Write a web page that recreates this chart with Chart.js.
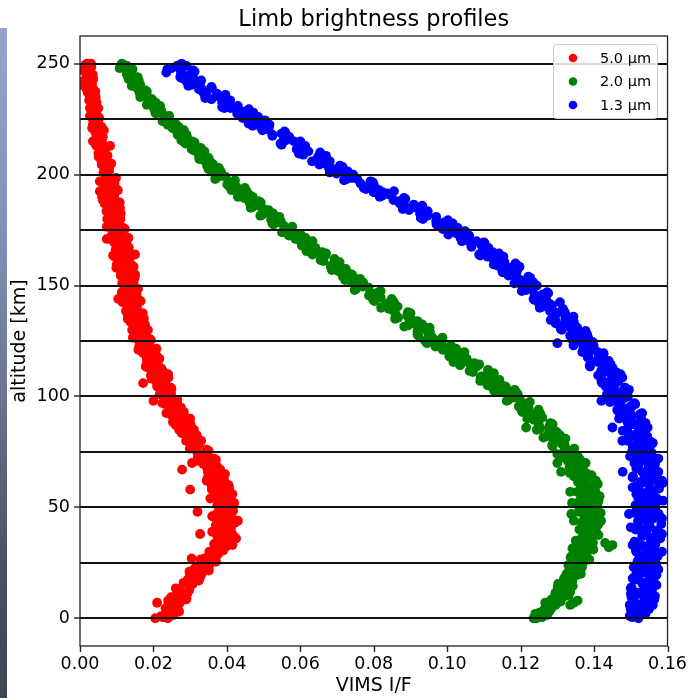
<!DOCTYPE html>
<html><head><meta charset="utf-8">
<script src="https://cdn.jsdelivr.net/npm/chart.js@4"></script>
<style>
html,body{margin:0;padding:0;background:#fff;overflow:hidden}
#wrap{position:relative;width:695px;height:698px}
#strip{position:absolute;left:0;top:28px;width:7px;height:670px;background:linear-gradient(#93a5cc,#8292b8 30%,#6c7390 55%,#4d5062 80%,#3f4652)}
</style></head><body>
<div id="wrap"><canvas id="c" width="695" height="698"></canvas><div id="strip"></div></div>
<script>
const seriesLabels = ['5.0 µm', '2.0 µm', '1.3 µm'];
const seriesColors = ['#ff0000', '#008000', '#0000ff'];
const yTickValues = [0, 50, 100, 150, 200, 250];
const gridLevels = [0, 25, 50, 75, 100, 125, 150, 175, 200, 225, 250];
const xTickValues = [0, 0.02, 0.04, 0.06, 0.08, 0.10, 0.12, 0.14, 0.16];

// altitude samples (km): whole-km rows and half-km rows
const altitudes = [0,1,2,3,4,5,6,7,8,9,10,11,12,13,14,15,16,17,18,19,20,21,22,23,24,25,26,27,28,29,30,31,32,33,34,35,36,37,38,39,40,41,42,43,44,45,46,47,48,49,50,51,52,53,54,55,56,57,58,59,60,61,62,63,64,65,66,67,68,69,70,71,72,73,74,75,76,77,78,79,80,81,82,83,84,85,86,87,88,89,90,91,92,93,94,95,96,97,98,99,100,101,102,103,104,105,106,107,108,109,110,111,112,113,114,115,116,117,118,119,120,121,122,123,124,125,126,127,128,129,130,131,132,133,134,135,136,137,138,139,140,141,142,143,144,145,146,147,148,149,150,151,152,153,154,155,156,157,158,159,160,161,162,163,164,165,166,167,168,169,170,171,172,173,174,175,176,177,178,179,180,181,182,183,184,185,186,187,188,189,190,191,192,193,194,195,196,197,198,199,200,201,202,203,204,205,206,207,208,209,210,211,212,213,214,215,216,217,218,219,220,221,222,223,224,225,226,227,228,229,230,231,232,233,234,235,236,237,238,239,240,241,242,243,244,245,246,247,248,249,250];
const altitudesHalf = [0.5,1.5,2.5,3.5,4.5,5.5,6.5,7.5,8.5,9.5,10.5,11.5,12.5,13.5,14.5,15.5,16.5,17.5,18.5,19.5,20.5,21.5,22.5,23.5,24.5,25.5,26.5,27.5,28.5,29.5,30.5,31.5,32.5,33.5,34.5,35.5,36.5,37.5,38.5,39.5,40.5,41.5,42.5,43.5,44.5,45.5,46.5,47.5,48.5,49.5,50.5,51.5,52.5,53.5,54.5,55.5,56.5,57.5,58.5,59.5,60.5,61.5,62.5,63.5,64.5,65.5,66.5,67.5,68.5,69.5,70.5,71.5,72.5,73.5,74.5,75.5,76.5,77.5,78.5,79.5,80.5,81.5,82.5,83.5,84.5,85.5,86.5,87.5,88.5,89.5,90.5,91.5,92.5,93.5,94.5,95.5,96.5,97.5,98.5,99.5,100.5,101.5,102.5,103.5,104.5,105.5,106.5,107.5,108.5,109.5,110.5,111.5,112.5,113.5,114.5,115.5,116.5,117.5,118.5,119.5,120.5,121.5,122.5,123.5,124.5,125.5,126.5,127.5,128.5,129.5,130.5,131.5,132.5,133.5,134.5,135.5,136.5,137.5,138.5,139.5,140.5,141.5,142.5,143.5,144.5,145.5,146.5,147.5,148.5,149.5,150.5,151.5,152.5,153.5,154.5,155.5,156.5,157.5,158.5,159.5,160.5,161.5,162.5,163.5,164.5,165.5,166.5,167.5,168.5,169.5,170.5,171.5,172.5,173.5,174.5,175.5,176.5,177.5,178.5,179.5,180.5,181.5,182.5,183.5,184.5,185.5,186.5,187.5,188.5,189.5,190.5,191.5,192.5,193.5,194.5,195.5,196.5,197.5,198.5,199.5,200.5,201.5,202.5,203.5,204.5,205.5,206.5,207.5,208.5,209.5,210.5,211.5,212.5,213.5,214.5,215.5,216.5,217.5,218.5,219.5,220.5,221.5,222.5,223.5,224.5,225.5,226.5,227.5,228.5,229.5,230.5,231.5,232.5,233.5,234.5,235.5,236.5,237.5,238.5,239.5,240.5,241.5,242.5,243.5,244.5,245.5,246.5,247.5,248.5,249.5];

// 5.0 µm I/F
const if50 = [.0239,.0221,.0252,.0238,.0267,.0237,.0255,.0272,.0240,.0273,
.0260,.0292,.0276,.0263,.0299,.0297,.0282,.0324,.0298,.0310,
.0331,.0298,.0335,.0329,.0352,.0334,.0369,.0339,.0363,.0376,
.0352,.0381,.0371,.0397,.0371,.0408,.0388,.0374,.0407,.0392,
.0411,.0385,.0405,.0422,.0387,.0394,.0412,.0372,.0399,.0394,
.0396,.0374,.0400,.0382,.0407,.0372,.0385,.0397,.0359,.0387,
.0368,.0395,.0374,.0354,.0382,.0371,.0348,.0382,.0347,.0352,
.0364,.0321,.0349,.0333,.0347,.0319,.0345,.0306,.0319,.0323,
.0289,.0311,.0293,.0313,.0280,.0310,.0282,.0261,.0288,.0267,
.0280,.0252,.0269,.0283,.0246,.0251,.0267,.0224,.0248,.0241,
.0241,.0217,.0243,.0223,.0247,.0211,.0223,.0233,.0195,.0221,
.0201,.0227,.0204,.0185,.0213,.0203,.0182,.0216,.0182,.0188,
.0201,.0159,.0188,.0173,.0188,.0161,.0189,.0152,.0168,.0174,
.0142,.0166,.0151,.0173,.0142,.0174,.0149,.0130,.0159,.0140,
.0155,.0129,.0149,.0165,.0130,.0137,.0154,.0114,.0140,.0135,
.0137,.0115,.0141,.0123,.0147,.0113,.0125,.0137,.0099,.0127,
.0109,.0135,.0114,.0095,.0125,.0117,.0097,.0133,.0100,.0107,
.0122,.0082,.0112,.0099,.0114,.0089,.0118,.0081,.0098,.0105,
.0074,.0098,.0084,.0107,.0076,.0109,.0085,.0067,.0096,.0078,
.0093,.0067,.0087,.0103,.0068,.0075,.0094,.0054,.0080,.0075,
.0075,.0064,.0076,.0066,.0078,.0060,.0065,.0070,.0051,.0065,
.0054,.0067,.0056,.0045,.0060,.0054,.0044,.0062,.0045,.0048,
.0055,.0033,.0048,.0041,.0048,.0035,.0050,.0031,.0039,.0042,
.0027,.0039,.0031,.0042,.0027,.0043,.0030,.0021,.0035,.0025,
.0033,.0019,.0029,.0036,.0018,.0021,.0029,.0009,.0022,.0019,
.0019];
const if50Half = [.0228,.0255,.0240,.0267,.0233,.0258,.0244,.0270,.0289,.0248,
.0273,.0270,.0297,.0261,.0298,.0307,.0298,.0294,.0327,.0299,
.0322,.0351,.0312,.0329,.0353,.0370,.0328,.0358,.0373,.0356,
.0390,.0373,.0399,.0365,.0388,.0379,.0405,.0417,.0375,.0404,
.0389,.0411,.0372,.0416,.0394,.0403,.0380,.0404,.0417,.0388,
.0383,.0405,.0386,.0409,.0370,.0391,.0372,.0392,.0406,.0359,
.0379,.0371,.0392,.0348,.0376,.0377,.0360,.0347,.0373,.0336,
.0350,.0370,.0321,.0329,.0343,.0350,.0299,.0320,.0324,.0298,
.0323,.0299,.0318,.0277,.0293,.0277,.0295,.0301,.0253,.0276,
.0257,.0276,.0235,.0276,.0252,.0259,.0233,.0255,.0265,.0234,
.0227,.0248,.0228,.0249,.0210,.0229,.0209,.0228,.0241,.0193,
.0211,.0202,.0222,.0179,.0208,.0210,.0194,.0182,.0208,.0173,
.0188,.0208,.0161,.0169,.0185,.0193,.0144,.0167,.0174,.0150,
.0177,.0155,.0177,.0138,.0156,.0142,.0163,.0171,.0125,.0150,
.0133,.0155,.0116,.0159,.0137,.0145,.0122,.0146,.0158,.0129,
.0124,.0146,.0127,.0149,.0111,.0131,.0112,.0132,.0146,.0100,
.0119,.0111,.0132,.0090,.0121,.0125,.0110,.0099,.0127,.0093,
.0110,.0132,.0086,.0095,.0112,.0122,.0073,.0097,.0105,.0082,
.0109,.0088,.0111,.0072,.0091,.0078,.0100,.0108,.0062,.0088,
.0071,.0093,.0054,.0097,.0075,.0084,.0062,.0086,.0098,.0069,
.0068,.0079,.0068,.0080,.0059,.0069,.0058,.0068,.0075,.0050,
.0060,.0055,.0065,.0043,.0057,.0059,.0050,.0045,.0059,.0041,
.0048,.0059,.0035,.0039,.0048,.0052,.0027,.0039,.0043,.0030,
.0045,.0034,.0045,.0025,.0035,.0027,.0038,.0042,.0018,.0031,
.0021,.0032,.0012,.0033,.0021,.0026,.0013,.0025,.0031,.0015];

// 2.0 µm I/F
const if20 = [.1243,.1260,.1253,.1278,.1264,.1283,.1295,.1267,.1300,.1291,
.1321,.1295,.1335,.1316,.1301,.1337,.1321,.1341,.1318,.1344,
.1364,.1332,.1343,.1367,.1330,.1361,.1359,.1365,.1339,.1379,
.1359,.1398,.1354,.1376,.1397,.1350,.1392,.1371,.1409,.1382,
.1360,.1402,.1393,.1367,.1419,.1376,.1388,.1410,.1358,.1402,
.1385,.1407,.1374,.1412,.1364,.1388,.1396,.1354,.1388,.1369,
.1401,.1361,.1405,.1371,.1345,.1383,.1355,.1371,.1333,.1359,
.1377,.1328,.1333,.1356,.1300,.1331,.1322,.1320,.1286,.1318,
.1291,.1322,.1271,.1285,.1298,.1244,.1278,.1250,.1281,.1246,
.1218,.1254,.1237,.1205,.1249,.1200,.1206,.1220,.1162,.1198,
.1175,.1192,.1147,.1184,.1123,.1142,.1144,.1090,.1122,.1093,
.1121,.1070,.1111,.1069,.1035,.1074,.1038,.1053,.1006,.1030,
.1047,.0988,.0990,.1010,.0945,.0975,.0962,.0957,.0919,.0953,
.0920,.0952,.0893,.0907,.0919,.0858,.0893,.0860,.0893,.0853,
.0820,.0859,.0839,.0802,.0849,.0794,.0798,.0813,.0748,.0786,
.0761,.0772,.0737,.0763,.0716,.0728,.0728,.0686,.0708,.0685,
.0704,.0663,.0693,.0659,.0633,.0660,.0632,.0641,.0604,.0621,
.0633,.0587,.0587,.0601,.0550,.0571,.0560,.0555,.0524,.0547,
.0521,.0543,.0497,.0506,.0514,.0465,.0489,.0463,.0486,.0456,
.0430,.0459,.0443,.0413,.0449,.0406,.0409,.0419,.0368,.0397,
.0377,.0384,.0361,.0378,.0346,.0354,.0353,.0325,.0340,.0324,
.0337,.0309,.0329,.0306,.0287,.0305,.0285,.0291,.0266,.0277,
.0283,.0252,.0251,.0260,.0225,.0239,.0230,.0227,.0205,.0221,
.0202,.0218,.0186,.0192,.0196,.0164,.0180,.0162,.0178,.0158,
.0141,.0161,.0152,.0133,.0157,.0129,.0133,.0141,.0108,.0128,
.0114];
const if20Half = [.1246,.1265,.1251,.1274,.1284,.1282,.1278,.1309,.1284,.1305,
.1331,.1295,.1309,.1329,.1342,.1302,.1328,.1340,.1323,.1353,
.1337,.1362,.1333,.1354,.1346,.1372,.1387,.1336,.1370,.1353,
.1383,.1341,.1394,.1372,.1386,.1363,.1395,.1412,.1380,.1375,
.1404,.1383,.1412,.1369,.1395,.1374,.1401,.1418,.1367,.1391,
.1383,.1409,.1359,.1395,.1400,.1383,.1371,.1403,.1364,.1384,
.1410,.1356,.1367,.1384,.1393,.1334,.1359,.1366,.1336,.1366,
.1338,.1362,.1315,.1335,.1316,.1339,.1346,.1287,.1313,.1289,
.1311,.1262,.1307,.1277,.1284,.1253,.1278,.1287,.1248,.1236,
.1259,.1231,.1253,.1203,.1222,.1195,.1215,.1225,.1167,.1184,
.1168,.1190,.1128,.1161,.1159,.1133,.1113,.1142,.1091,.1105,
.1127,.1061,.1066,.1081,.1087,.1017,.1041,.1045,.1007,.1036,
.1002,.1024,.0968,.0985,.0961,.0982,.0987,.0921,.0948,.0919,
.0941,.0883,.0932,.0897,.0903,.0866,.0891,.0900,.0855,.0841,
.0865,.0833,.0855,.0799,.0819,.0787,.0807,.0819,.0752,.0770,
.0755,.0770,.0722,.0745,.0742,.0720,.0703,.0724,.0683,.0693,
.0707,.0655,.0658,.0668,.0670,.0617,.0633,.0634,.0604,.0626,
.0598,.0614,.0569,.0581,.0561,.0576,.0578,.0527,.0544,.0521,
.0536,.0491,.0526,.0498,.0500,.0470,.0488,.0492,.0458,.0447,
.0464,.0439,.0454,.0411,.0426,.0401,.0416,.0422,.0371,.0385,
.0373,.0383,.0350,.0366,.0363,.0348,.0337,.0350,.0324,.0330,
.0339,.0304,.0305,.0311,.0312,.0276,.0286,.0286,.0266,.0278,
.0259,.0269,.0239,.0246,.0232,.0241,.0243,.0207,.0219,.0203,
.0213,.0182,.0206,.0186,.0188,.0167,.0179,.0182,.0159,.0152,
.0164,.0148,.0160,.0132,.0142,.0127,.0138,.0143,.0110,.0120];

// 1.3 µm I/F
const if13 = [.1521,.1497,.1522,.1512,.1549,.1521,.1497,.1546,.1536,.1508,
.1566,.1520,.1534,.1558,.1502,.1549,.1531,.1557,.1521,.1566,
.1515,.1542,.1553,.1508,.1549,.1529,.1565,.1523,.1573,.1540,
.1515,.1562,.1536,.1559,.1521,.1555,.1580,.1531,.1541,.1570,
.1513,.1552,.1547,.1550,.1520,.1561,.1536,.1576,.1525,.1547,
.1567,.1513,.1556,.1530,.1571,.1540,.1515,.1561,.1550,.1521,
.1577,.1529,.1542,.1564,.1506,.1552,.1532,.1556,.1519,.1563,
.1510,.1535,.1544,.1498,.1537,.1516,.1550,.1506,.1554,.1519,
.1492,.1538,.1509,.1531,.1491,.1522,.1546,.1494,.1503,.1528,
.1468,.1504,.1496,.1496,.1463,.1501,.1473,.1510,.1456,.1475,
.1492,.1435,.1475,.1446,.1484,.1450,.1422,.1466,.1451,.1419,
.1472,.1422,.1432,.1450,.1388,.1430,.1407,.1427,.1385,.1425,
.1368,.1390,.1395,.1344,.1379,.1354,.1385,.1337,.1381,.1342,
.1312,.1354,.1322,.1339,.1296,.1324,.1344,.1289,.1293,.1316,
.1252,.1285,.1274,.1271,.1235,.1269,.1238,.1272,.1215,.1230,
.1244,.1183,.1219,.1187,.1221,.1183,.1151,.1191,.1173,.1137,
.1186,.1132,.1138,.1153,.1087,.1124,.1096,.1112,.1066,.1102,
.1040,.1057,.1058,.1003,.1034,.1004,.1029,.0975,.1015,.0970,
.0934,.0970,.0932,.0944,.0896,.0918,.0932,.0871,.0870,.0886,
.0816,.0843,.0825,.0815,.0773,.0801,.0764,.0791,.0727,.0737,
.0744,.0680,.0713,.0678,.0708,.0667,.0632,.0669,.0648,.0608,
.0654,.0597,.0600,.0613,.0546,.0583,.0555,.0570,.0524,.0559,
.0497,.0514,.0514,.0459,.0489,.0459,.0485,.0432,.0472,.0428,
.0393,.0430,.0393,.0406,.0358,.0381,.0396,.0336,.0337,.0359,
.0295,.0327,.0314,.0310,.0273,.0307,.0275,.0308,.0249,.0264,
.0277];
const if13Half = [.1504,.1525,.1516,.1533,.1500,.1530,.1514,.1549,.1564,.1502,
.1540,.1519,.1552,.1500,.1561,.1532,.1547,.1516,.1551,.1570,
.1531,.1526,.1560,.1536,.1569,.1518,.1549,.1524,.1556,.1577,
.1514,.1544,.1535,.1567,.1510,.1555,.1563,.1544,.1531,.1572,
.1525,.1551,.1583,.1520,.1535,.1560,.1576,.1510,.1545,.1558,
.1527,.1567,.1539,.1572,.1520,.1548,.1531,.1563,.1577,.1514,
.1550,.1527,.1559,.1505,.1565,.1534,.1547,.1515,.1549,.1566,
.1525,.1518,.1551,.1525,.1557,.1504,.1533,.1506,.1536,.1555,
.1491,.1518,.1508,.1538,.1478,.1522,.1527,.1507,.1491,.1529,
.1479,.1502,.1531,.1465,.1477,.1499,.1512,.1443,.1475,.1485,
.1451,.1488,.1456,.1487,.1432,.1457,.1437,.1466,.1477,.1411,
.1444,.1419,.1447,.1389,.1445,.1411,.1420,.1383,.1413,.1426,
.1382,.1371,.1399,.1369,.1397,.1341,.1366,.1335,.1361,.1377,
.1309,.1333,.1318,.1345,.1282,.1322,.1324,.1299,.1280,.1315,
.1261,.1281,.1307,.1238,.1247,.1265,.1275,.1203,.1232,.1238,
.1201,.1234,.1199,.1226,.1167,.1188,.1164,.1190,.1197,.1127,
.1156,.1127,.1151,.1090,.1141,.1102,.1107,.1066,.1092,.1100,
.1051,.1036,.1060,.1026,.1049,.0988,.1007,.0971,.0992,.1002,
.0928,.0946,.0926,.0947,.0879,.0913,.0909,.0879,.0854,.0882,
.0822,.0836,.0855,.0779,.0782,.0794,.0798,.0719,.0741,.0742,
.0699,.0729,.0691,.0715,.0652,.0670,.0643,.0666,.0670,.0596,
.0622,.0590,.0612,.0549,.0600,.0561,.0565,.0524,.0549,.0557,
.0508,.0492,.0516,.0481,.0504,.0443,.0463,.0428,.0449,.0460,
.0387,.0406,.0387,.0409,.0341,.0376,.0373,.0345,.0324,.0358,
.0304,.0322,.0330,.0277,.0285,.0303,.0312,.0238,.0266,.0272];

// isolated / extra samples
const extraAlt50 = [0,0.5,7,3,9,27,38,39,48,58,67,70,106,98,171,164,144,213,33,36,44,52,56,60,42,46,54,62,65,72,80,85,90,95,110,120,130,135,155,160,180,190,205,215,220,230,240,245,248,250];
const extraIf50 = [.0205,.0225,.0210,.0270,.0290,.0304,.0327,.0360,.0320,.0300,.0278,.0305,.0172,.0200,.0073,.0150,.0104,.0082,.0415,.0425,.0430,.0420,.0415,.0405,.0370,.0360,.0355,.0345,.0395,.0365,.0330,.0270,.0300,.0275,.0240,.0170,.0185,.0130,.0150,.0130,.0110,.0060,.0085,.0035,.0065,.0050,.0010,.0035,.0005,.0030];
const extraAlt20 = [70,66,73,57,52,47,44,32,34,33,7,8,6,86,0,0.5,1.5,2,20,28,38,42,55,62,78,82,92,105,115,125,132,140,155,165,180,190,205,218,230,244,249];
const extraIf20 = [.1300,.1310,.1315,.1335,.1340,.1338,.1345,.1440,.1430,.1450,.1345,.1355,.1335,.1215,.1235,.1258,.1272,.1240,.1325,.1370,.1370,.1410,.1415,.1360,.1320,.1300,.1220,.1110,.1060,.0940,.0930,.0860,.0740,.0650,.0540,.0470,.0360,.0290,.0215,.0142,.0118];
const extraAlt13 = [2,4,6,9,11,15,18,22,27,30,33,38,41,45,48,53,56,59,62,66,69,72,76,79,82,85,88,92,96,99,103,107,111,116,120,124,128,133,138,142,146,152,157,163,170,178,185,192,198,206,215,222,230,236,242,246,249,124,98,86,66,47,61,80];
const extraIf13 = [.1540,.1500,.1560,.1545,.1500,.1570,.1505,.1575,.1555,.1585,.1505,.1585,.1500,.1585,.1555,.1588,.1555,.1505,.1585,.1575,.1520,.1575,.1525,.1560,.1545,.1490,.1540,.1525,.1505,.1440,.1495,.1420,.1460,.1440,.1410,.1345,.1360,.1295,.1320,.1250,.1260,.1200,.1150,.1110,.1080,.0990,.0890,.0800,.0755,.0680,.0600,.0470,.0410,.0340,.0290,.0235,.0290,.1300,.1420,.1450,.1478,.1495,.1587,.1477];

const FONT = "'DejaVu Sans', sans-serif";
function toPoints(alts, vals) { return alts.map((a, i) => ({ x: vals[i], y: a })); }
function series(parts) { return parts.reduce((acc, p) => acc.concat(toPoints(p[0], p[1])), []); }

const datasets = [
  { label: seriesLabels[0], backgroundColor: seriesColors[0],
    data: series([[altitudes, if50], [altitudesHalf, if50Half], [extraAlt50, extraIf50]]) },
  { label: seriesLabels[1], backgroundColor: seriesColors[1],
    data: series([[altitudes, if20], [altitudesHalf, if20Half], [extraAlt20, extraIf20]]) },
  { label: seriesLabels[2], backgroundColor: seriesColors[2],
    data: series([[altitudes, if13], [altitudesHalf, if13Half], [extraAlt13, extraIf13]]) }
];

const overlay = {
  id: 'overlay',
  afterDatasetsDraw(chart) {
    const { ctx, chartArea: a, scales: { x, y } } = chart;
    ctx.save();
    ctx.beginPath();
    ctx.rect(a.left, a.top, a.right - a.left, a.bottom - a.top);
    ctx.clip();
    ctx.strokeStyle = '#111';
    ctx.lineWidth = 2;
    gridLevels.forEach(v => {
      const py = Math.round(y.getPixelForValue(v));
      ctx.beginPath(); ctx.moveTo(a.left, py); ctx.lineTo(a.right, py); ctx.stroke();
    });
    ctx.restore();

    ctx.save();
    ctx.strokeStyle = '#222';
    ctx.lineWidth = 1.3;
    ctx.strokeRect(a.left, a.top, a.right - a.left, a.bottom - a.top);
    ctx.lineWidth = 1.4;
    yTickValues.forEach(v => {
      const py = Math.round(y.getPixelForValue(v));
      ctx.beginPath(); ctx.moveTo(a.left - 6, py); ctx.lineTo(a.left, py); ctx.stroke();
    });
    xTickValues.forEach(v => {
      const px = Math.round(x.getPixelForValue(v)) + 0.5;
      ctx.beginPath(); ctx.moveTo(px, a.bottom); ctx.lineTo(px, a.bottom + 6); ctx.stroke();
    });

    const bx = 553, by = 44, bw = 104, bh = 74;
    ctx.beginPath();
    ctx.roundRect(bx + 0.5, by + 0.5, bw, bh, 3);
    ctx.fillStyle = 'rgba(255,255,255,0.85)';
    ctx.fill();
    ctx.strokeStyle = '#cccccc';
    ctx.lineWidth = 1;
    ctx.stroke();
    ctx.font = '14.5px ' + FONT;
    ctx.textBaseline = 'middle';
    ctx.textAlign = 'left';
    chart.data.datasets.forEach((ds, i) => {
      const cy = by + 14 + i * 23.5;
      ctx.beginPath();
      ctx.arc(bx + 20, cy, 4.3, 0, Math.PI * 2);
      ctx.fillStyle = ds.backgroundColor;
      ctx.fill();
      ctx.fillStyle = '#000';
      ctx.fillText(ds.label, bx + 47, cy + 1);
    });
    ctx.restore();
  }
};

new Chart(document.getElementById('c'), {
  type: 'scatter',
  data: { datasets },
  options: {
    responsive: false,
    animation: false,
    devicePixelRatio: 1,
    layout: { padding: { left: 0, right: 27, top: 0, bottom: 0 } },
    elements: { point: { radius: 4.9, hoverRadius: 4.9, borderWidth: 0 } },
    plugins: {
      legend: { display: false },
      tooltip: { enabled: false },
      title: {
        display: true, text: 'Limb brightness profiles', fullSize: false, color: '#000',
        font: { family: FONT, size: 22.5, weight: 'normal', lineHeight: 1.2 }, padding: { top: 7, bottom: 2 }
      }
    },
    scales: {
      x: {
        type: 'linear', min: 0, max: 0.16,
        afterBuildTicks: s => { s.ticks = xTickValues.map(v => ({ value: v })); },
        afterFit: s => { s.height = 52; },
        grid: { display: false, drawTicks: false },
        border: { display: false },
        ticks: { font: { family: FONT, size: 17.5 }, color: '#000', padding: 8, maxRotation: 0, autoSkip: false, callback: v => Number(v).toFixed(2) },
        title: { display: true, text: 'VIMS I/F', color: '#000', font: { family: FONT, size: 19 }, padding: { top: 0, bottom: 1 } }
      },
      y: {
        type: 'linear', min: -12.5, max: 262.5,
        afterBuildTicks: s => { s.ticks = yTickValues.map(v => ({ value: v })); },
        afterFit: s => { s.width = 80; },
        grid: { display: false, drawTicks: false },
        border: { display: false },
        ticks: { font: { family: FONT, size: 17.5 }, color: '#000', padding: 10, autoSkip: false, callback: v => String(v) },
        title: { display: true, text: 'altitude [km]', color: '#000', font: { family: FONT, size: 19 }, padding: { top: 9, bottom: 0 } }
      }
    }
  },
  plugins: [overlay]
});
</script>
</body></html>
